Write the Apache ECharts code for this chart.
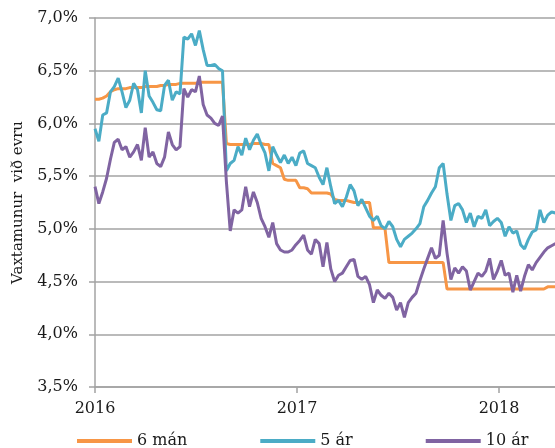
<!DOCTYPE html>
<html>
<head>
<meta charset="utf-8">
<script src="https://cdn.jsdelivr.net/npm/echarts@6/dist/echarts.min.js"></script>
<style>
  html, body { margin: 0; padding: 0; background: #fff; }
  #main { width: 555px; height: 448px; }
</style>
</head>
<body>
<div id="main"></div>
<script>
// vikuleg gildi frá 1. jan 2016
var startDate = '2016-01-01';
var seriesNames = ['6 mán', '5 ár', '10 ár'];
var yearTicks = [2016, 2017, 2018];

var man6 = [
  6.23, 6.23, 6.24, 6.26, 6.30, 6.32, 6.33, 6.33, 6.33, 6.34,
  6.34, 6.34, 6.34, 6.35, 6.35, 6.35, 6.35, 6.36, 6.36, 6.37,
  6.37, 6.37, 6.38, 6.38, 6.38, 6.38, 6.38, 6.39, 6.39, 6.39,
  6.39, 6.39, 6.39, 6.39, 5.81, 5.80, 5.80, 5.80, 5.80, 5.80,
  5.80, 5.81, 5.81, 5.81, 5.80, 5.80, 5.62, 5.60, 5.58, 5.47,
  5.46, 5.46, 5.46, 5.39, 5.39, 5.38, 5.34, 5.34, 5.34, 5.34,
  5.34, 5.33, 5.28, 5.27, 5.27, 5.27, 5.26, 5.25, 5.25, 5.25,
  5.25, 5.25, 5.01, 5.01, 5.01, 5.00, 4.68, 4.68, 4.68, 4.68,
  4.68, 4.68, 4.68, 4.68, 4.68, 4.68, 4.68, 4.68, 4.68, 4.68,
  4.68, 4.43, 4.43, 4.43, 4.43, 4.43, 4.43, 4.43, 4.43, 4.43,
  4.43, 4.43, 4.43, 4.43, 4.43, 4.43, 4.43, 4.43, 4.43, 4.43,
  4.43, 4.43, 4.43, 4.43, 4.43, 4.43, 4.43, 4.45, 4.45, 4.45
];

var ar5 = [
  5.95, 5.83, 6.08, 6.10, 6.30, 6.35, 6.43, 6.30, 6.15, 6.22,
  6.38, 6.32, 6.10, 6.50, 6.26, 6.20, 6.13, 6.12, 6.36, 6.41,
  6.22, 6.30, 6.28, 6.82, 6.80, 6.85, 6.74, 6.88, 6.70, 6.55,
  6.55, 6.56, 6.52, 6.50, 5.55, 5.62, 5.65, 5.78, 5.70, 5.86,
  5.75, 5.84, 5.90, 5.80, 5.72, 5.55, 5.78, 5.70, 5.63, 5.70,
  5.62, 5.68, 5.60, 5.72, 5.74, 5.62, 5.60, 5.58, 5.49, 5.42,
  5.58, 5.40, 5.24, 5.27, 5.21, 5.30, 5.42, 5.36, 5.22, 5.28,
  5.20, 5.12, 5.08, 5.12, 5.03, 5.00, 5.07, 5.02, 4.90, 4.83,
  4.90, 4.93, 4.96, 5.00, 5.05, 5.21, 5.27, 5.34, 5.40, 5.58,
  5.62, 5.33, 5.08, 5.22, 5.24, 5.18, 5.06, 5.15, 5.02, 5.12,
  5.10, 5.18, 5.03, 5.07, 5.10, 5.06, 4.93, 5.02, 4.96, 4.98,
  4.85, 4.81, 4.90, 4.97, 4.99, 5.18, 5.06, 5.13, 5.16, 5.15
];

var ar10 = [
  5.40, 5.24, 5.35, 5.48, 5.66, 5.82, 5.85, 5.75, 5.78, 5.68,
  5.73, 5.80, 5.65, 5.96, 5.68, 5.73, 5.62, 5.59, 5.68, 5.92,
  5.80, 5.75, 5.78, 6.33, 6.25, 6.32, 6.30, 6.45, 6.18, 6.08,
  6.05, 6.00, 5.98, 6.07, 5.45, 4.98, 5.18, 5.15, 5.18, 5.40,
  5.21, 5.35, 5.25, 5.10, 5.02, 4.92, 5.06, 4.86, 4.80, 4.78,
  4.78, 4.80, 4.85, 4.89, 4.94, 4.80, 4.76, 4.90, 4.86, 4.64,
  4.87, 4.62, 4.50, 4.56, 4.58, 4.64, 4.70, 4.71, 4.55, 4.52,
  4.55, 4.47, 4.30, 4.42, 4.37, 4.34, 4.39, 4.35, 4.23, 4.30,
  4.16, 4.30, 4.35, 4.39, 4.51, 4.62, 4.72, 4.82, 4.72, 4.75,
  5.08, 4.77, 4.52, 4.63, 4.58, 4.64, 4.60, 4.42, 4.50, 4.58,
  4.55, 4.60, 4.72, 4.52, 4.60, 4.70, 4.56, 4.58, 4.40, 4.56,
  4.41, 4.55, 4.66, 4.61, 4.68, 4.73, 4.78, 4.82, 4.84, 4.86
];

// dagsetningar (vikulega) sem ártal með aukastöfum
var t0 = Date.parse(startDate);
var dates = [];
for (var i = 0; i < man6.length; i++) {
  var ms = t0 + i * 7 * 86400000;
  var y = new Date(ms).getUTCFullYear();
  var s = Date.UTC(y, 0, 1), e = Date.UTC(y + 1, 0, 1);
  dates.push(y + (ms - s) / (e - s));
}

function pairs(vals) {
  return vals.map(function (v, i) { return [dates[i], v]; });
}

var font = 'DejaVu Serif';
var grey = '#a3a3a3';

var myChart = echarts.init(document.getElementById('main'));

var option = {
  animation: false,
  color: ['#F79646', '#4BACC6', '#8064A2'],
  textStyle: { fontFamily: font, color: '#1a1a1a' },
  grid: { left: 95, right: 0, top: 18, bottom: 61 },
  legend: {
    data: seriesNames,
    left: 72,
    top: 428,
    icon: 'rect',
    itemWidth: 55,
    itemHeight: 4,
    itemGap: 73,
    textStyle: { fontFamily: font, fontSize: 16, color: '#1a1a1a' }
  },
  xAxis: {
    type: 'value',
    min: 2016,
    max: 2018.277,
    interval: 1,
    splitLine: { show: false },
    axisLine: { lineStyle: { color: grey, width: 1.5 } },
    axisTick: { show: true, length: 6, customValues: yearTicks, lineStyle: { color: grey, width: 1.5 } },
    axisLabel: {
      customValues: yearTicks,
      margin: 14,
      fontFamily: font,
      fontSize: 16,
      color: '#1a1a1a',
      formatter: function (v) { return String(v); }
    }
  },
  yAxis: {
    type: 'value',
    min: 3.5,
    max: 7.0,
    interval: 0.5,
    name: 'Vaxtamunur  við evru',
    nameLocation: 'middle',
    nameGap: 69,
    nameTextStyle: { fontFamily: font, fontSize: 15, color: '#1a1a1a' },
    axisLine: { show: true, lineStyle: { color: grey, width: 1.5 } },
    axisTick: { show: true, length: 6, lineStyle: { color: grey, width: 1.5 } },
    splitLine: { lineStyle: { color: grey, width: 1.5 } },
    axisLabel: {
      margin: 17,
      fontFamily: font,
      fontSize: 16,
      color: '#1a1a1a',
      formatter: function (v) { return v.toFixed(1).replace('.', ',') + '%'; }
    }
  },
  series: [
    { name: seriesNames[0], type: 'line', showSymbol: false, symbol: 'none', lineStyle: { width: 3 }, data: pairs(man6) },
    { name: seriesNames[1], type: 'line', showSymbol: false, symbol: 'none', lineStyle: { width: 3 }, data: pairs(ar5) },
    { name: seriesNames[2], type: 'line', showSymbol: false, symbol: 'none', lineStyle: { width: 3 }, data: pairs(ar10) }
  ]
};

myChart.setOption(option);
</script>
</body>
</html>
